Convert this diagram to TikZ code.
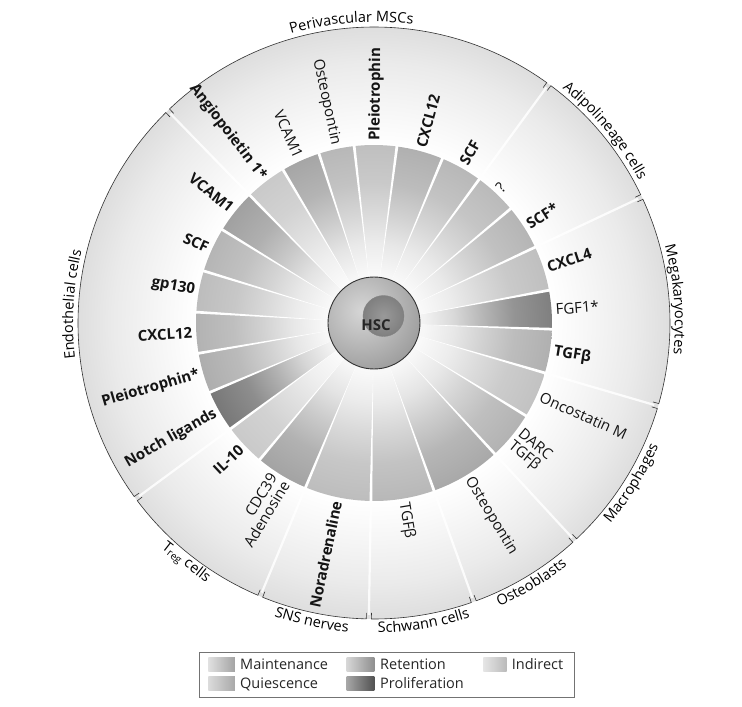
\documentclass[tikz,border=0pt]{standalone}
\usepackage{fontspec}
\setmainfont{Open Sans}
\usetikzlibrary{decorations.text}
\newcommand\secfont{\fontsize{14.5}{16}\selectfont}
\newcommand\lblfont{\fontsize{15}{15}\selectfont}
\colorlet{wedgecol}{black!30}
\pgfdeclareradialshading[wedgecol]{wedgeshade}{\pgfpointorigin}{%
  color(0bp)=(white); color(7bp)=(wedgecol!10!white); color(11.2bp)=(wedgecol!30!white);
  color(15.4bp)=(wedgecol!58!white); color(19.7bp)=(wedgecol!84!white); color(25bp)=(wedgecol);
  color(50bp)=(wedgecol)}
\pgfdeclareradialshading{ringshade}{\pgfpointorigin}{%
  color(0bp)=(white); color(15bp)=(white); color(18.6bp)=(black!4); color(22bp)=(black!8);
  color(25bp)=(black!13); color(50bp)=(black!13)}
\begin{document}
\begin{tikzpicture}[
  lbl/.style={inner sep=1pt, font=\lblfont, text=black!92},
  lblR/.style={lbl, anchor=west},
  lblL/.style={lbl, anchor=east},
  bf/.style={font=\lblfont\bfseries},
  legtext/.style={inner sep=0pt, anchor=base west, font=\fontsize{14.5}{16}\selectfont, text=black!85},
  sectortext/.style={decorate, decoration={text along path, text align=center, text={|\secfont|#1}}},
  arcline/.style={black!80, line width=0.6pt},
]
\useasboundingbox (-374pt,-384pt) rectangle (368pt,323pt);
\fill[white] (-374pt,-384pt) rectangle (368pt,323pt);

% outer ring with gradient
\shade[shading=ringshade] (0,0) circle[radius=296pt];
% gaps between cell sectors
\foreach \a in {-70.3,-47.3,-16.3,25.2,53.8,134.2,216.4,247.4,269}
  {\draw[white, line width=2.2pt, opacity=0.85] (\a:179pt) -- (\a:292pt);}

% wedges
\foreach \a/\b/\g in {-70.3/-47.3/34, -47.3/-31.4/30, -31.4/-16.3/24, -16.3/-2/31,
  -2/10.6/50, 10.6/25.2/25, 25.2/39.9/29, 39.9/53.8/27, 53.8/67.4/28, 67.4/82.6/31,
  82.6/96.4/25, 96.4/108/28, 108/120.7/35, 120.7/134.2/21, 134.2/148.4/37,
  148.4/163/29, 163/176.5/26, 176.5/189.8/30, 189.8/202.9/32, 202.9/216.4/53,
  216.4/230.1/21, 230.1/247.4/36, 247.4/269/26, 269/289.7/28}
  {\colorlet{wedgecol}{black!\g}
   \begin{scope}
     \clip (0,0) -- (\a:178pt) arc[start angle=\a, end angle=\b, radius=178pt] -- cycle;
     \shade[shading=wedgeshade] (0,0) circle[radius=178pt];
   \end{scope}}
% separators
\foreach \a in {-70.3,-47.3,-31.4,-16.3,-2,10.6,25.2,39.9,53.8,67.4,82.6,96.4,108,
  120.7,134.2,148.4,163,176.5,189.8,202.9,216.4,230.1,247.4,269}
  {\fill[white] (\a:44pt) -- ({\a-0.45}:179pt) -- ({\a+0.45}:179pt) -- cycle;}

% outer arcs with ticks
\foreach \a/\b in {-70.3/-47.3, -47.3/-16.3, -16.3/25.2, 25.2/53.8, 53.8/134.2,
  134.2/216.4, 216.4/247.4, 247.4/269, 269/289.7}
  {\draw[arcline] ({\a+0.5}:290pt) -- ({\a+0.5}:296pt)
     arc[start angle={\a+0.5}, end angle={\b-0.5}, radius=296pt] -- ({\b-0.5}:290pt);}

% HSC
\begin{scope}
  \clip (0,0) circle[radius=46pt];
  \shade[inner color=black!16, outer color=black!55] (-12pt,12pt) circle[radius=110pt];
\end{scope}
\draw[black!80, line width=0.9pt] (0,0) circle[radius=46pt];
\shade[inner color=black!40, outer color=black!50] (9.5pt,7pt) circle[radius=20.5pt];
\draw[black!50, line width=0.3pt] (9.5pt,7pt) circle[radius=20.5pt];
\node[font=\fontsize{15}{15}\selectfont\bfseries, text=black!85] (hsc) at (2pt,-2pt) {HSC};

% wedge labels
\node[lblR, rotate=-58.8] (w1) at (-58.8:181pt) {Osteopontin};
\node[lblR, rotate=-39.35, align=left] (w2) at (-39.35:181pt) {DARC\\TGFβ};
\node[lblR, rotate=-23.85] (w3) at (-23.85:181pt) {Oncostatin M};
\node[lblR, bf, rotate=-9.15] (w4) at (-9.15:181pt) {TGFβ};
\node[lblR, rotate=4.3] (w5) at (4.3:181pt) {FGF1*};
\node[lblR, bf, rotate=17.9] (w6) at (17.9:181pt) {CXCL4};
\node[lblR, bf, rotate=32.55] (w7) at (32.55:181pt) {SCF*};
\node[lblR, rotate=46.85] (w8) at (46.85:181pt) {?};
\node[lblR, bf, rotate=60.6] (w9) at (60.6:181pt) {SCF};
\node[lblR, bf, rotate=75] (w10) at (75:181pt) {CXCL12};
\node[lblR, bf, rotate=89.5] (w11) at (89.5:181pt) {Pleiotrophin};
\node[lblL, rotate=-77.8] (w12) at (102.2:181pt) {Osteopontin};
\node[lblL, rotate=-65.65] (w13) at (114.35:181pt) {VCAM1};
\node[lblL, bf, rotate=-52.55] (w14) at (127.45:181pt) {Angiopoietin 1*};
\node[lblL, bf, rotate=-38.7] (w15) at (141.3:181pt) {VCAM1};
\node[lblL, bf, rotate=-24.3] (w16) at (155.7:181pt) {SCF};
\node[lblL, bf, rotate=-10.25] (w17) at (169.75:181pt) {gp130};
\node[lblL, bf, rotate=3.15] (w18) at (183.15:181pt) {CXCL12};
\node[lblL, bf, rotate=16.35] (w19) at (196.35:181pt) {Pleiotrophin*};
\node[lblL, bf, rotate=29.65] (w20) at (209.65:181pt) {Notch ligands};
\node[lblL, bf, rotate=43.25] (w21) at (223.25:181pt) {IL-10};
\node[lblL, rotate=58.75, align=right] (w22) at (238.75:181pt) {CDC39\\Adenosine};
\node[lblL, bf, rotate=78.2] (w23) at (258.2:181pt) {Noradrenaline};
\node[lblR, rotate=-80.65] (w24) at (-80.65:181pt) {TGFβ};

% sector labels (top: outward, clockwise)
\path[sectortext={Perivascular MSCs}] (129.3:301pt) arc[start angle=129.3, end angle=59.3, radius=301pt];
\path[sectortext={Adipolineage cells}] (74.75:301pt) arc[start angle=74.75, end angle=4.75, radius=301pt];
\path[sectortext={Megakaryocytes}] (39.5:301pt) arc[start angle=39.5, end angle=-30.5, radius=301pt];
\path[sectortext={Endothelial cells}] (211.5:301pt) arc[start angle=211.5, end angle=141.5, radius=301pt];
% sector labels (bottom: inward, counter-clockwise)
\path[sectortext={Macrophages}] (-66.9:310pt) arc[start angle=-66.9, end angle=3.1, radius=310pt];
\path[sectortext={Osteoblasts}] (-93.8:310pt) arc[start angle=-93.8, end angle=-23.8, radius=310pt];
\path[sectortext={Schwann cells}] (-115.6:310pt) arc[start angle=-115.6, end angle=-45.6, radius=310pt];
\path[sectortext={SNS nerves}] (-136.8:310pt) arc[start angle=-136.8, end angle=-66.8, radius=310pt];
\node[font=\secfont, rotate=-38.1, inner sep=0pt] (treg) at (-128.1:305pt) {T\textsubscript{reg} cells};

% legend
\draw[black!55, line width=0.7pt] (-175pt,-329pt) rectangle (200pt,-374pt);
\shade[left color=black!12, right color=black!36] (-165.7pt,-334.3pt) rectangle (-139pt,-348pt);
\shade[left color=black!14, right color=black!34] (-165.7pt,-353.7pt) rectangle (-139pt,-367pt);
\shade[left color=black!16, right color=black!44] (-27.3pt,-334.3pt) rectangle (0.3pt,-348pt);
\shade[left color=black!35, right color=black!68] (-27.3pt,-353.7pt) rectangle (0.3pt,-367pt);
\shade[left color=black!10, right color=black!27] (109.3pt,-334.3pt) rectangle (132.7pt,-348pt);
\node[legtext] (lm) at (-134pt,-346.3pt) {Maintenance};
\node[legtext] (lq) at (-134pt,-365.3pt) {Quiescence};
\node[legtext] (lr) at (6pt,-346.3pt) {Retention};
\node[legtext] (lp) at (6pt,-365.3pt) {Proliferation};
\node[legtext] (li) at (137.7pt,-346.3pt) {Indirect};
\end{tikzpicture}
\end{document}
